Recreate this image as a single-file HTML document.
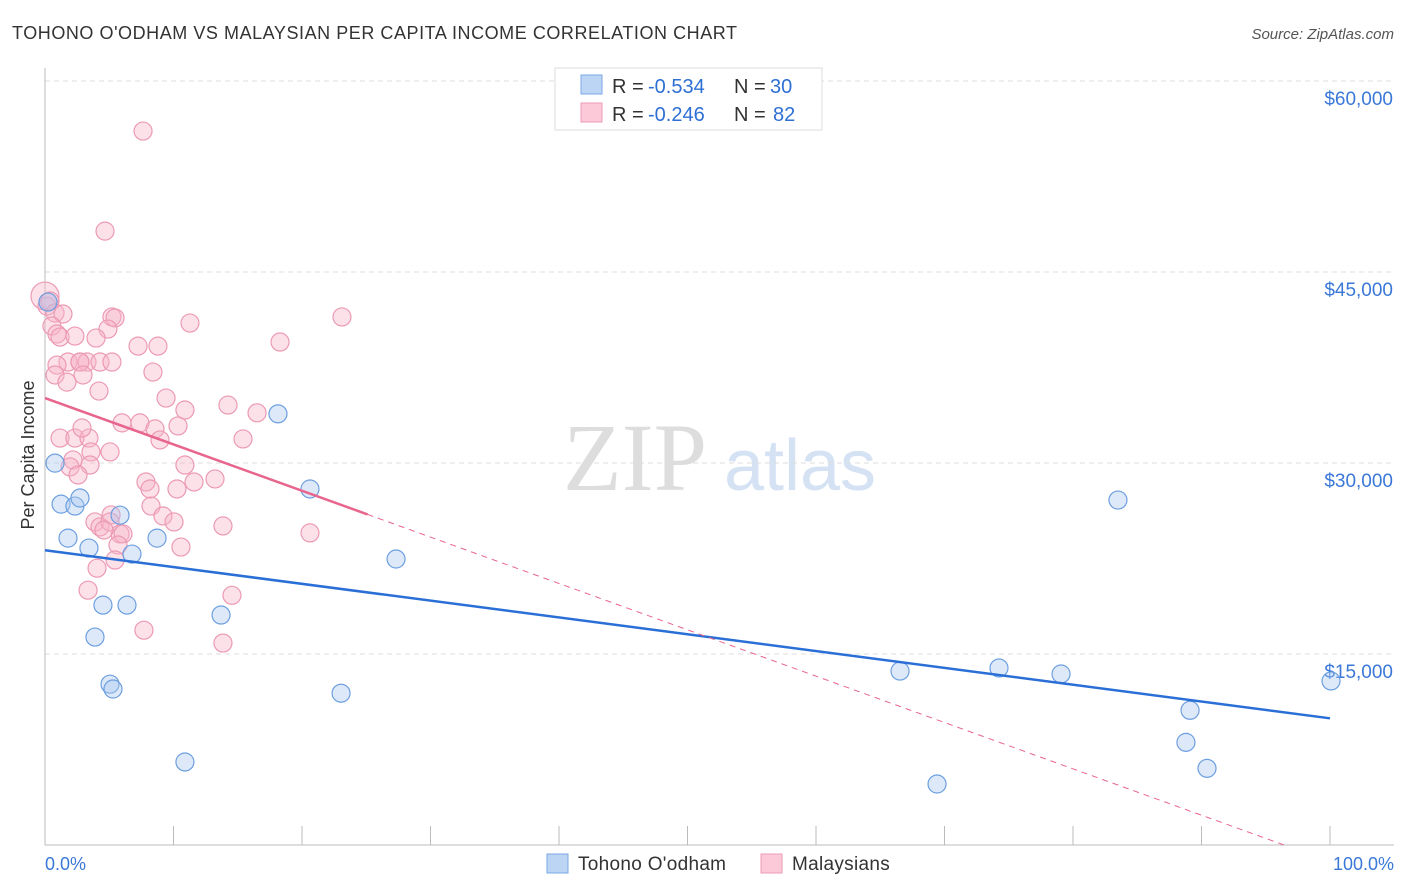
<!DOCTYPE html>
<html><head><meta charset="utf-8"><style>
body{margin:0;background:#fff;font-family:"Liberation Sans",sans-serif;}
svg{display:block}
</style></head><body>
<svg id="c" width="1406" height="892" xmlns="http://www.w3.org/2000/svg">
<text x="12" y="39" font-size="18" fill="#333" letter-spacing="0.55">TOHONO O'ODHAM VS MALAYSIAN PER CAPITA INCOME CORRELATION CHART</text>
<text x="1394" y="39" font-size="15" fill="#555" font-style="italic" text-anchor="end">Source: ZipAtlas.com</text>
<text x="635" y="490" font-size="96" fill="#ddd" font-family="Liberation Serif,serif" text-anchor="middle">ZIP</text>
<text x="800" y="490" font-size="72" fill="#d4e2f4" text-anchor="middle">atlas</text>
<text transform="translate(34,455) rotate(-90)" font-size="18" fill="#333" text-anchor="middle">Per Capita Income</text>
<g id="grid"></g><g id="pts"></g><g id="lines"></g>
<rect x="555" y="68" width="267" height="62" fill="#fff" stroke="#ddd"/>
<rect x="581" y="75" width="21" height="19" fill="#bcd5f5" stroke="#7aa8e6"/>
<rect x="581" y="103" width="21" height="19" fill="#fbc9d8" stroke="#ee9ab5"/>
<g font-size="20">
<text x="612" y="93" fill="#333">R =</text><text x="648" y="93" fill="#2e6fd4">-0.534</text>
<text x="734" y="93" fill="#333">N =</text><text x="770" y="93" fill="#2e6fd4">30</text></g>
<g font-size="20">
<text x="612" y="121" fill="#333">R =</text><text x="648" y="121" fill="#2e6fd4">-0.246</text>
<text x="734" y="121" fill="#333">N =</text><text x="773" y="121" fill="#2e6fd4">82</text></g>
<text x="45" y="870" font-size="18" fill="#3a78d8">0.0%</text>
<text x="1394" y="870" font-size="18" fill="#3a78d8" text-anchor="end">100.0%</text>
<rect x="547" y="854" width="21" height="19" fill="#bcd5f5" stroke="#7aa8e6"/>
<text x="578" y="870" font-size="19" fill="#333" letter-spacing="0.3">Tohono O'odham</text>
<rect x="761" y="854" width="21" height="19" fill="#fbc9d8" stroke="#ee9ab5"/>
<text x="792" y="870" font-size="19" fill="#333" letter-spacing="0.3">Malaysians</text>
</svg>
<script>
const yTicks=[15000,30000,45000,60000];
const yTickLabels=["$15,000","$30,000","$45,000","$60,000"];
const xTicks=[0,10,20,30,40,50,60,70,80,90,100];
const blueX=[0.78,1.25,2.33,1.79,2.72,3.42,3.89,4.51,5.06,5.29,5.84,6.38,6.77,8.72,10.89,13.70,18.13,20.62,23.04,27.32,66.54,69.42,74.24,79.07,83.50,89.11,88.79,90.43,100.08,0.23];
const blueY=[29990,26770,26620,24100,27250,23320,16330,18840,12630,12250,25900,18840,22850,24100,6520,18060,33860,27960,11920,22460,13660,4790,13900,13430,27090,10580,8060,6020,12880,42640];
const pinkX=[7.63,4.67,0,0.16,0.39,0.78,1.40,0.54,0.93,1.17,2.33,5.21,5.45,4.90,11.28,23.11,8.79,7.24,18.29,1.79,0.93,2.72,3.27,4.28,5.21,2.72,0.78,2.96,1.71,8.40,4.20,9.42,3.97,10.89,14.24,16.50,5.99,7.39,8.56,10.35,15.41,8.95,1.17,2.33,3.42,2.88,5.06,3.58,2.18,3.50,1.95,2.57,10.89,7.86,8.17,13.23,10.27,11.60,8.25,9.18,10.04,5.14,3.89,4.28,5.06,5.84,6.07,4.59,13.85,20.62,10.58,5.68,5.45,4.05,3.35,14.55,7.70,13.85];
const pinkY=[56070,48210,43110,42320,42720,41780,41700,40760,40130,39890,39970,41470,41390,40520,40990,41470,39180,39180,39500,37930,37690,37930,37930,37930,37930,37930,36910,36910,36350,37140,35650,35100,39810,34160,34550,33940,33150,33150,32680,32910,31890,31810,31960,31960,31960,32750,30870,30870,30240,29840,29690,29060,29840,28510,27960,28750,27960,28510,26620,25840,25370,25920,25370,24980,25370,24430,24430,24740,25060,24510,23400,23560,22380,21740,20010,19610,16870,15860];
const blueLine=[23150,-132];
const pinkLine=[35100,-364];
const pinkSolidEnd=25.1;
const NS="http://www.w3.org/2000/svg";
const X=p=>45+p*12.85, Y=v=>845-v*191/15000;
function mk(t,a,parent){const e=document.createElementNS(NS,t);for(const k in a)e.setAttribute(k,a[k]);document.getElementById(parent).appendChild(e);return e;}
yTicks.forEach((t,i)=>{
 const l=mk('line',{x1:45,x2:1394,y1:Y(t),y2:Y(t),stroke:'#ddd','stroke-dasharray':'5,4'},'grid');
 
 
 const tx=mk('text',{x:1393,y:Y(t)+24,'font-size':19,fill:'#3a78d8','text-anchor':'end'},'grid');tx.textContent=yTickLabels[i];
 
 
});
const ax=mk('line',{x1:45,x2:45,y1:68,y2:845,stroke:'#bbb'},'grid');


const bx=mk('line',{x1:45,x2:1394,y1:845,y2:845,stroke:'#bbb'},'grid');


xTicks.forEach(t=>{const l=mk('line',{x1:X(t),x2:X(t),y1:826,y2:845,stroke:'#bbb'},'grid');
 
 });
pinkX.forEach((x,i)=>{const c=mk('circle',{cx:X(x),cy:Y(pinkY[i]),r:i==2?14:9,fill:'rgba(248,180,200,0.4)',stroke:'#ec9ab4','stroke-width':1.2},'pts');
 
 });
blueX.forEach((x,i)=>{const c=mk('circle',{cx:X(x),cy:Y(blueY[i]),r:9,fill:'rgba(170,200,240,0.4)',stroke:'#6d9fe0','stroke-width':1.2},'pts');
 
 });
const bl=mk('line',{x1:X(0),y1:Y(blueLine[0]),x2:X(100),y2:Y(blueLine[0]+blueLine[1]*100),stroke:'#2a6fd6','stroke-width':2.5},'lines');


const pl=mk('line',{x1:X(0),y1:Y(pinkLine[0]),x2:X(pinkSolidEnd),y2:Y(pinkLine[0]+pinkLine[1]*pinkSolidEnd),stroke:'#e8658e','stroke-width':2.5},'lines');


const pe=-pinkLine[0]/pinkLine[1];
const pd=mk('line',{x1:X(pinkSolidEnd),y1:Y(pinkLine[0]+pinkLine[1]*pinkSolidEnd),x2:X(pe),y2:Y(0),stroke:'#e8658e','stroke-width':1,'stroke-dasharray':'6,5'},'lines');


</script>
</body></html>
